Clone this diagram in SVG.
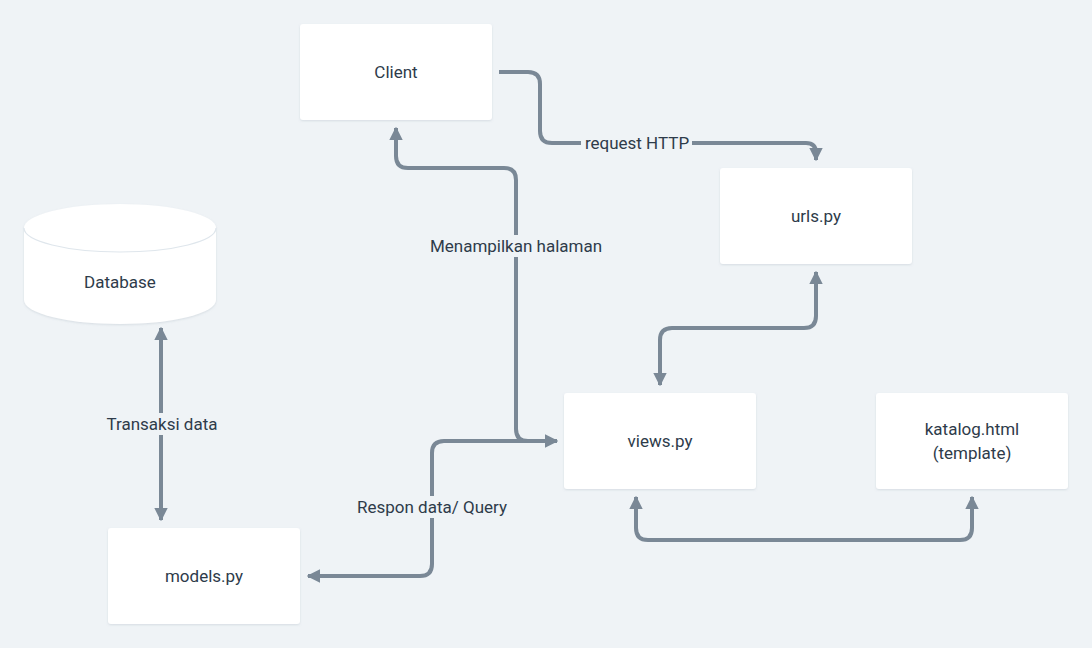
<svg xmlns="http://www.w3.org/2000/svg" width="1092" height="648" viewBox="0 0 1092 648">
<defs>
<style>
.node{fill:#ffffff;filter:url(#sh)}
.lbl{font-family:Roboto,"Liberation Sans",sans-serif;font-size:17px;fill:#2e3b4a;text-anchor:middle;dominant-baseline:central}
.edge{fill:none;stroke:#7a8896;stroke-width:4;stroke-linecap:butt}
.bg{fill:#eff3f6}
</style>
<filter id="sh" x="-10%" y="-10%" width="120%" height="130%">
<feDropShadow dx="0" dy="1" stdDeviation="1.2" flood-color="#8a99a8" flood-opacity="0.25"/>
</filter>
<marker id="ah" viewBox="0 0 10 10" refX="9" refY="5" markerWidth="3.4" markerHeight="3.4" orient="auto-start-reverse" markerUnits="strokeWidth">
<path d="M0,0 L10,5 L0,10 Z" fill="#7a8896"/>
</marker>
</defs>
<rect width="1092" height="648" fill="#eff3f6"/>

<g id="connectors">
<g id="e-request">
<path class="edge" d="M499 72 H528 Q540 72 540 84 V131 Q540 143 552 143 H806 Q816 143 816 153 V160" marker-end="url(#ah)"/>
<rect class="bg" x="581" y="132" width="111" height="22"/>
<text class="lbl" x="637" y="143">request HTTP</text>
</g>
<g id="e-menampilkan">
<path class="edge" d="M548 441 H528 Q516 441 516 429 V180 Q516 168 504 168 H408 Q396 168 396 156 V128" marker-end="url(#ah)"/>
<rect class="bg" x="424" y="235" width="184" height="22"/>
<text class="lbl" x="516" y="246">Menampilkan halaman</text>
</g>
<g id="e-respon">
<path class="edge" d="M308 576 H420 Q432 576 432 564 V453 Q432 441 444 441 H557" marker-start="url(#ah)" marker-end="url(#ah)"/>
<rect class="bg" x="349" y="496" width="166" height="22"/>
<text class="lbl" x="432" y="507">Respon data/ Query</text>
</g>
<g id="e-views-urls">
<path class="edge" d="M660 385 V340 Q660 328 672 328 H804 Q816 328 816 316 V272" marker-start="url(#ah)" marker-end="url(#ah)"/>
</g>
<g id="e-transaksi">
<path class="edge" d="M161 328 V520" marker-start="url(#ah)" marker-end="url(#ah)"/>
<rect class="bg" x="99" y="413" width="126" height="22"/>
<text class="lbl" x="162" y="424">Transaksi data</text>
</g>
<g id="e-views-katalog">
<path class="edge" d="M636 497 V528 Q636 540 648 540 H960 Q972 540 972 528 V497" marker-start="url(#ah)" marker-end="url(#ah)"/>
</g>
</g>

<g id="client">
<rect class="node" x="300" y="24" width="192" height="96" rx="3"/>
<text class="lbl" x="396" y="72">Client</text>
</g>
<g id="urls">
<rect class="node" x="720" y="168" width="192" height="96" rx="3"/>
<text class="lbl" x="816" y="216">urls.py</text>
</g>
<g id="database">
<path class="node" d="M24 228 A96 24 0 0 1 216 228 V300 A96 24 0 0 1 24 300 Z"/>
<path d="M24 228 A96 24 0 0 0 216 228" fill="none" stroke="#dfe6ec" stroke-width="1.2"/>
<text class="lbl" x="120" y="282">Database</text>
</g>
<g id="views">
<rect class="node" x="564" y="393" width="192" height="96" rx="3"/>
<text class="lbl" x="660" y="441">views.py</text>
</g>
<g id="katalog">
<rect class="node" x="876" y="393" width="192" height="96" rx="3"/>
<text class="lbl" x="972" y="429">katalog.html</text>
<text class="lbl" x="972" y="453">(template)</text>
</g>
<g id="models">
<rect class="node" x="108" y="528" width="192" height="96" rx="3"/>
<text class="lbl" x="204" y="576">models.py</text>
</g>
</svg>
